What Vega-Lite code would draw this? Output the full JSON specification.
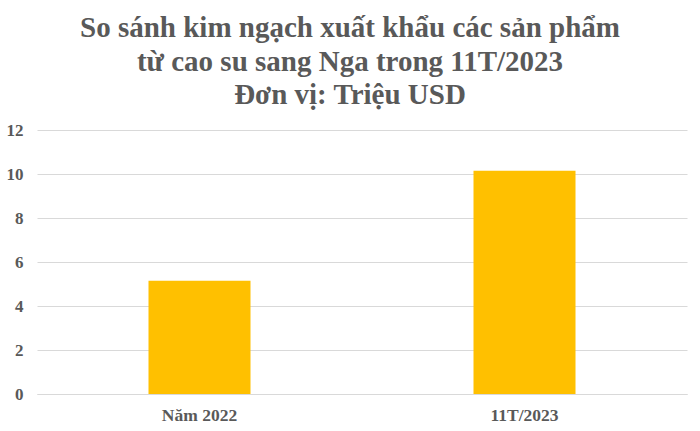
{
  "$schema": "https://vega.github.io/schema/vega-lite/v6.json",
  "autosize": "none",
  "width": 650,
  "height": 264,
  "padding": {"left": 37, "top": 130, "right": 13, "bottom": 37},
  "background": "white",
  "title": {
    "text": ["So sánh kim ngạch xuất khẩu các sản phẩm", "từ cao su sang Nga trong 11T/2023", "Đơn vị: Triệu USD"],
    "font": "Liberation Serif",
    "fontSize": 29,
    "fontWeight": "bold",
    "color": "#595959",
    "lineHeight": 33.5,
    "anchor": "middle",
    "dx": -12,
    "offset": 11
  },
  "data": {
    "values": [
      {"period": "Năm 2022", "value": 5.15},
      {"period": "11T/2023", "value": 10.15}
    ]
  },
  "mark": {"type": "bar", "color": "#FFC000", "size": 102},
  "encoding": {
    "x": {
      "field": "period",
      "type": "nominal",
      "sort": null,
      "title": null,
      "axis": {
        "labelAngle": 0,
        "labelFont": "Liberation Serif",
        "labelFontSize": 17.5,
        "labelFontWeight": "bold",
        "labelColor": "#595959",
        "labelPadding": 12,
        "ticks": false,
        "domain": true,
        "domainColor": "#d9d9d9",
        "grid": false
      }
    },
    "y": {
      "field": "value",
      "type": "quantitative",
      "title": null,
      "scale": {"domain": [0, 12], "nice": false},
      "axis": {
        "values": [0, 2, 4, 6, 8, 10, 12],
        "labelFont": "Liberation Serif",
        "labelFontSize": 17,
        "labelFontWeight": "bold",
        "labelColor": "#595959",
        "labelPadding": 14,
        "ticks": false,
        "domain": false,
        "grid": true,
        "gridColor": "#d9d9d9"
      }
    }
  },
  "config": {"view": {"stroke": null}}
}
